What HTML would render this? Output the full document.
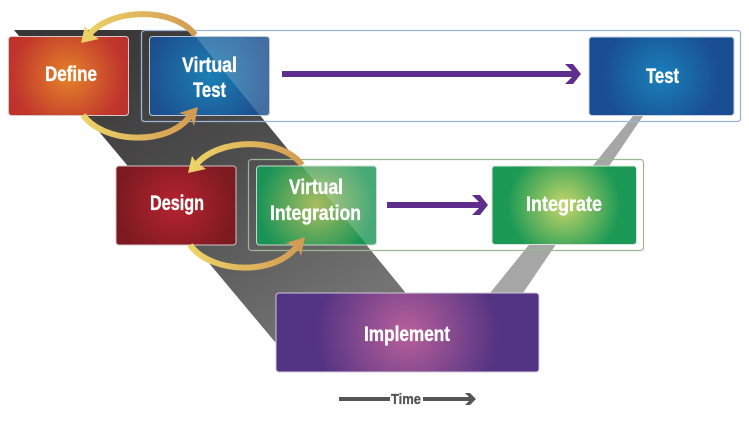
<!DOCTYPE html>
<html>
<head>
<meta charset="utf-8">
<style>
html,body{margin:0;padding:0;background:#fff;width:749px;height:425px;overflow:hidden}
svg{display:block}
text{font-family:"Liberation Sans",sans-serif;font-weight:bold;fill:#fff;stroke:#fff;stroke-width:.35px}
</style>
</head>
<body>
<svg width="749" height="425" viewBox="0 0 749 425" xmlns="http://www.w3.org/2000/svg">
<defs>
<linearGradient id="band" gradientUnits="userSpaceOnUse" x1="100" y1="30" x2="300" y2="340">
<stop offset="0" stop-color="#383636"/><stop offset=".5" stop-color="#4f4e4e"/><stop offset="1" stop-color="#737373"/>
</linearGradient>
<radialGradient id="gDefine" gradientUnits="userSpaceOnUse" cx="68" cy="76" r="62"><stop offset="0" stop-color="#e5832a"/><stop offset=".9" stop-color="#c0352c"/><stop offset="1" stop-color="#bd322c"/></radialGradient>
<radialGradient id="gVT" gradientUnits="userSpaceOnUse" cx="209" cy="76" r="62"><stop offset="0" stop-color="#1b7fb5"/><stop offset="1" stop-color="#1c4f8e"/></radialGradient>
<radialGradient id="gTest" gradientUnits="userSpaceOnUse" cx="661" cy="76" r="58"><stop offset="0" stop-color="#1a80ba"/><stop offset="1" stop-color="#1a4e92"/></radialGradient>
<radialGradient id="gDesign" gradientUnits="userSpaceOnUse" cx="176" cy="205" r="60"><stop offset="0" stop-color="#b7232f"/><stop offset="1" stop-color="#7b1a20"/></radialGradient>
<radialGradient id="gVI" gradientUnits="userSpaceOnUse" cx="316" cy="205" r="58"><stop offset="0" stop-color="#a9bd60"/><stop offset="1" stop-color="#1a9456"/></radialGradient>
<radialGradient id="gInt" gradientUnits="userSpaceOnUse" cx="564" cy="205" r="56"><stop offset="0" stop-color="#c6d66a"/><stop offset="1" stop-color="#1c9a55"/></radialGradient>
<radialGradient id="gImp" gradientUnits="userSpaceOnUse" cx="407" cy="333" r="92"><stop offset="0" stop-color="#b8609a"/><stop offset="1" stop-color="#533383"/></radialGradient>
<linearGradient id="gold" gradientUnits="userSpaceOnUse" x1="85" y1="0" x2="197" y2="0"><stop offset="0" stop-color="#edd266"/><stop offset="1" stop-color="#d29a52"/></linearGradient>
<linearGradient id="gold2" gradientUnits="userSpaceOnUse" x1="192" y1="0" x2="304" y2="0"><stop offset="0" stop-color="#edd266"/><stop offset="1" stop-color="#d29a52"/></linearGradient>
</defs>

<polygon points="14,30 190,30 405,292 405,340 275,342" fill="url(#band)"/>
<polygon points="633,116 643,116 523,293 490,293" fill="#a6a6a6"/>

<rect x="141.5" y="30.5" width="599" height="91" rx="3" fill="none" stroke="#9db6d6" stroke-width="1.3"/>
<rect x="248.5" y="159.5" width="395" height="91" rx="3" fill="none" stroke="#9cb794" stroke-width="1.2"/>

<path d="M195,35 C175,7 110,7 88,36" fill="none" stroke="url(#gold)" stroke-width="6"/>
<path d="M302,165 C282,137 217,137 195,166" fill="none" stroke="url(#gold2)" stroke-width="6"/>

<rect x="8.5" y="36.5" width="120" height="79" rx="3" fill="url(#gDefine)" stroke="#d8c8c4"/>
<rect x="149.5" y="36.5" width="120" height="79" rx="3" fill="url(#gVT)" stroke="#b8c4d4"/>
<rect x="589" y="37" width="145" height="78.500" rx="3" fill="url(#gTest)" stroke="#c4d2e4"/>
<rect x="116" y="166" width="120" height="79" rx="3" fill="url(#gDesign)" stroke="#d0c4c4"/>
<rect x="256.500" y="166" width="120" height="79" rx="3" fill="url(#gVI)" stroke="#c8d8c8"/>
<rect x="492" y="166" width="144.500" height="78.500" rx="3" fill="url(#gInt)" stroke="#d8e4d8"/>
<rect x="276" y="293" width="263" height="79" rx="3" fill="url(#gImp)" stroke="#cfc8d8"/>

<polygon points="195,36 269.500,36 269.500,115.500 260,115.500" fill="#fff" opacity=".18"/>
<polygon points="302,166 376.500,166 376.500,245 367,245" fill="#fff" opacity=".2"/>

<path d="M85,26 L81,43 L99,39 L93,35 L89,32 Z" fill="url(#gold)"/>
<path d="M192,156 L188,173 L206,169 L200,165 L196,162 Z" fill="url(#gold2)"/>
<path d="M83,115 C105,145 170,145 190,116" fill="none" stroke="url(#gold)" stroke-width="6"/>
<path d="M190,245 C212,275 277,275 297,246" fill="none" stroke="url(#gold2)" stroke-width="6"/>
<path d="M179,113 L198,107 L194,126 L191,118 L186,115 Z" fill="#d29a52"/>
<path d="M286,243 L305,237 L301,256 L298,248 L293,245 Z" fill="#d29a52"/>

<rect x="282" y="71" width="292" height="6" fill="#5f2d8c"/>
<polygon points="565,64 573,64 581,74 573,84 565,84 572,77 572,71" fill="#5f2d8c"/>
<rect x="387" y="202" width="92" height="6" fill="#5f2d8c"/>
<polygon points="472,195 480,195 488,205 480,215 472,215 479,208 479,202" fill="#5f2d8c"/>

<rect x="339" y="397" width="51" height="4" fill="#555"/>
<rect x="423" y="397" width="48" height="4" fill="#555"/>
<polygon points="465,393 470,393 476,399 470,405 465,405 469,401 469,397" fill="#555"/>

<text x="45" y="81" font-size="21" textLength="52" lengthAdjust="spacingAndGlyphs">Define</text>
<text x="182" y="72" font-size="21" textLength="55" lengthAdjust="spacingAndGlyphs">Virtual</text>
<text x="193" y="97" font-size="21" textLength="33" lengthAdjust="spacingAndGlyphs">Test</text>
<text x="646" y="83" font-size="21" textLength="33" lengthAdjust="spacingAndGlyphs">Test</text>
<text x="150" y="210" font-size="21" textLength="54" lengthAdjust="spacingAndGlyphs">Design</text>
<text x="289" y="194" font-size="21" textLength="54" lengthAdjust="spacingAndGlyphs">Virtual</text>
<text x="270" y="220" font-size="21" textLength="91" lengthAdjust="spacingAndGlyphs">Integration</text>
<text x="526" y="211" font-size="21" textLength="76" lengthAdjust="spacingAndGlyphs">Integrate</text>
<text x="364" y="341" font-size="21" textLength="86" lengthAdjust="spacingAndGlyphs">Implement</text>
<text x="391" y="404" font-size="15" textLength="30" lengthAdjust="spacingAndGlyphs" style="fill:#555;stroke:#555">Time</text>
</svg>
</body>
</html>
